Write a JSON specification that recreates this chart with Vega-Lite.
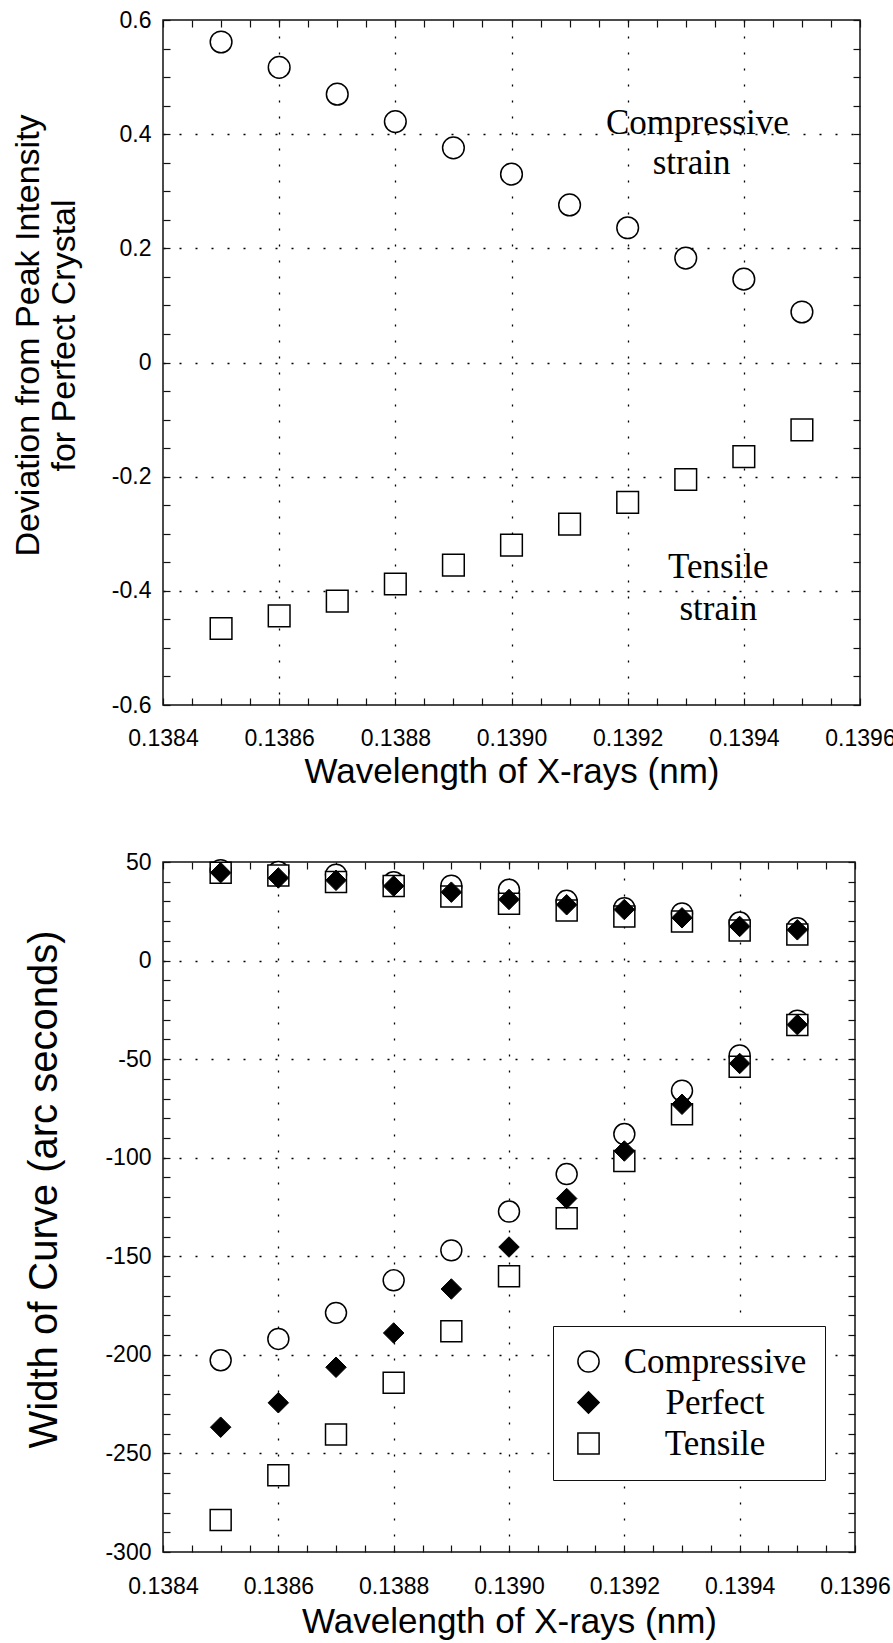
{
  "$schema": "https://vega.github.io/schema/vega-lite/v6.json",
  "background": "white",
  "padding": {"left": 10, "top": 8, "right": 5, "bottom": 0},
  "spacing": 157,
  "bounds": "flush",
  "resolve": {
    "scale": {"shape": "independent", "fill": "independent", "stroke": "independent"},
    "legend": {"shape": "independent", "fill": "independent", "stroke": "independent"}
  },
  "config": {
    "view": {"stroke": "#111", "strokeWidth": 1.5},
    "font": "Liberation Sans",
    "axis": {
      "labelFont": "Liberation Sans", "titleFont": "Liberation Sans",
      "labelColor": "#000", "titleColor": "#000", "titleFontWeight": "normal",
      "domain": false, "tickColor": "#111", "tickWidth": 1.2, "tickSize": -7,
      "labelFontSize": 23, "titleFontSize": 35,
      "labelOverlap": false, "labelFlush": false, "labelBound": false,
      "gridColor": "#000", "gridDash": [2, 14], "gridWidth": 1.3
    }
  },
  "datasets": {
    "top": [
      {"wavelength": 0.1385, "deviation": 0.5615, "strain": "Compressive"},
      {"wavelength": 0.1386, "deviation": 0.517, "strain": "Compressive"},
      {"wavelength": 0.1387, "deviation": 0.470, "strain": "Compressive"},
      {"wavelength": 0.1388, "deviation": 0.422, "strain": "Compressive"},
      {"wavelength": 0.1389, "deviation": 0.376, "strain": "Compressive"},
      {"wavelength": 0.1390, "deviation": 0.330, "strain": "Compressive"},
      {"wavelength": 0.1391, "deviation": 0.276, "strain": "Compressive"},
      {"wavelength": 0.1392, "deviation": 0.236, "strain": "Compressive"},
      {"wavelength": 0.1393, "deviation": 0.183, "strain": "Compressive"},
      {"wavelength": 0.1394, "deviation": 0.146, "strain": "Compressive"},
      {"wavelength": 0.1395, "deviation": 0.0885, "strain": "Compressive"},
      {"wavelength": 0.1385, "deviation": -0.466, "strain": "Tensile"},
      {"wavelength": 0.1386, "deviation": -0.444, "strain": "Tensile"},
      {"wavelength": 0.1387, "deviation": -0.418, "strain": "Tensile"},
      {"wavelength": 0.1388, "deviation": -0.388, "strain": "Tensile"},
      {"wavelength": 0.1389, "deviation": -0.355, "strain": "Tensile"},
      {"wavelength": 0.1390, "deviation": -0.320, "strain": "Tensile"},
      {"wavelength": 0.1391, "deviation": -0.283, "strain": "Tensile"},
      {"wavelength": 0.1392, "deviation": -0.245, "strain": "Tensile"},
      {"wavelength": 0.1393, "deviation": -0.205, "strain": "Tensile"},
      {"wavelength": 0.1394, "deviation": -0.165, "strain": "Tensile"},
      {"wavelength": 0.1395, "deviation": -0.118, "strain": "Tensile"}
    ],
    "notes": [
      {"wavelength": 0.13932, "deviation": 0.400, "label": "Compressive"},
      {"wavelength": 0.13931, "deviation": 0.330, "label": "strain"},
      {"wavelength": 0.139356, "deviation": -0.377, "label": "Tensile"},
      {"wavelength": 0.139356, "deviation": -0.451, "label": "strain"}
    ],
    "bottom": [
      {"wavelength": 0.1385, "width": 45.8, "strain": "Compressive"},
      {"wavelength": 0.1386, "width": 44.9, "strain": "Compressive"},
      {"wavelength": 0.1387, "width": 43.6, "strain": "Compressive"},
      {"wavelength": 0.1388, "width": 39.7, "strain": "Compressive"},
      {"wavelength": 0.1389, "width": 38.0, "strain": "Compressive"},
      {"wavelength": 0.1390, "width": 35.9, "strain": "Compressive"},
      {"wavelength": 0.1391, "width": 30.3, "strain": "Compressive"},
      {"wavelength": 0.1392, "width": 26.6, "strain": "Compressive"},
      {"wavelength": 0.1393, "width": 23.9, "strain": "Compressive"},
      {"wavelength": 0.1394, "width": 19.3, "strain": "Compressive"},
      {"wavelength": 0.1395, "width": 16.4, "strain": "Compressive"},
      {"wavelength": 0.1385, "width": -202.7, "strain": "Compressive"},
      {"wavelength": 0.1386, "width": -191.9, "strain": "Compressive"},
      {"wavelength": 0.1387, "width": -178.7, "strain": "Compressive"},
      {"wavelength": 0.1388, "width": -162.2, "strain": "Compressive"},
      {"wavelength": 0.1389, "width": -147.0, "strain": "Compressive"},
      {"wavelength": 0.1390, "width": -127.3, "strain": "Compressive"},
      {"wavelength": 0.1391, "width": -108.3, "strain": "Compressive"},
      {"wavelength": 0.1392, "width": -88.0, "strain": "Compressive"},
      {"wavelength": 0.1393, "width": -66.0, "strain": "Compressive"},
      {"wavelength": 0.1394, "width": -48.1, "strain": "Compressive"},
      {"wavelength": 0.1395, "width": -30.5, "strain": "Compressive"},
      {"wavelength": 0.1385, "width": 44.6, "strain": "Tensile"},
      {"wavelength": 0.1386, "width": 43.2, "strain": "Tensile"},
      {"wavelength": 0.1387, "width": 39.8, "strain": "Tensile"},
      {"wavelength": 0.1388, "width": 37.8, "strain": "Tensile"},
      {"wavelength": 0.1389, "width": 32.5, "strain": "Tensile"},
      {"wavelength": 0.1390, "width": 28.8, "strain": "Tensile"},
      {"wavelength": 0.1391, "width": 25.4, "strain": "Tensile"},
      {"wavelength": 0.1392, "width": 22.4, "strain": "Tensile"},
      {"wavelength": 0.1393, "width": 19.8, "strain": "Tensile"},
      {"wavelength": 0.1394, "width": 15.3, "strain": "Tensile"},
      {"wavelength": 0.1395, "width": 13.2, "strain": "Tensile"},
      {"wavelength": 0.1385, "width": -283.8, "strain": "Tensile"},
      {"wavelength": 0.1386, "width": -261.1, "strain": "Tensile"},
      {"wavelength": 0.1387, "width": -240.4, "strain": "Tensile"},
      {"wavelength": 0.1388, "width": -214.2, "strain": "Tensile"},
      {"wavelength": 0.1389, "width": -188.0, "strain": "Tensile"},
      {"wavelength": 0.1390, "width": -160.1, "strain": "Tensile"},
      {"wavelength": 0.1391, "width": -130.7, "strain": "Tensile"},
      {"wavelength": 0.1392, "width": -101.7, "strain": "Tensile"},
      {"wavelength": 0.1393, "width": -78.0, "strain": "Tensile"},
      {"wavelength": 0.1394, "width": -53.9, "strain": "Tensile"},
      {"wavelength": 0.1395, "width": -32.7, "strain": "Tensile"},
      {"wavelength": 0.1385, "width": 44.6, "strain": "Perfect"},
      {"wavelength": 0.1386, "width": 41.9, "strain": "Perfect"},
      {"wavelength": 0.1387, "width": 40.7, "strain": "Perfect"},
      {"wavelength": 0.1388, "width": 37.8, "strain": "Perfect"},
      {"wavelength": 0.1389, "width": 34.7, "strain": "Perfect"},
      {"wavelength": 0.1390, "width": 31.0, "strain": "Perfect"},
      {"wavelength": 0.1391, "width": 28.3, "strain": "Perfect"},
      {"wavelength": 0.1392, "width": 25.9, "strain": "Perfect"},
      {"wavelength": 0.1393, "width": 21.7, "strain": "Perfect"},
      {"wavelength": 0.1394, "width": 17.3, "strain": "Perfect"},
      {"wavelength": 0.1395, "width": 15.6, "strain": "Perfect"},
      {"wavelength": 0.1385, "width": -236.7, "strain": "Perfect"},
      {"wavelength": 0.1386, "width": -224.3, "strain": "Perfect"},
      {"wavelength": 0.1387, "width": -206.3, "strain": "Perfect"},
      {"wavelength": 0.1388, "width": -188.9, "strain": "Perfect"},
      {"wavelength": 0.1389, "width": -166.6, "strain": "Perfect"},
      {"wavelength": 0.1390, "width": -145.3, "strain": "Perfect"},
      {"wavelength": 0.1391, "width": -120.7, "strain": "Perfect"},
      {"wavelength": 0.1392, "width": -96.6, "strain": "Perfect"},
      {"wavelength": 0.1393, "width": -72.9, "strain": "Perfect"},
      {"wavelength": 0.1394, "width": -52.2, "strain": "Perfect"},
      {"wavelength": 0.1395, "width": -32.5, "strain": "Perfect"}
    ]
  },
  "vconcat": [
    {
      "width": 697,
      "height": 685,
      "layer": [
        {
          "data": {"name": "top"},
          "mark": {"type": "point", "filled": true, "fill": "white", "fillOpacity": 1, "stroke": "#000", "strokeWidth": 1.5, "size": 470},
          "encoding": {
            "x": {
              "field": "wavelength", "type": "quantitative",
              "scale": {"domain": [0.1384, 0.1396], "nice": false, "zero": false},
              "axis": {
                "orient": "bottom",
                "title": "Wavelength of X-rays (nm)",
                "titleBaseline": "alphabetic", "titleY": 77,
                "labelPadding": 29, "labelDx": -7,
                "values": [0.1384, 0.13845, 0.1385, 0.13855, 0.1386, 0.13865, 0.1387, 0.13875, 0.1388, 0.13885, 0.1389, 0.13895, 0.139, 0.13905, 0.1391, 0.13915, 0.1392, 0.13925, 0.1393, 0.13935, 0.1394, 0.13945, 0.1395, 0.13955, 0.1396],
                "labelExpr": "abs(datum.value*5000-round(datum.value*5000))<0.01 ? format(datum.value,'.4f') : ''",
                "grid": true,
                "gridOpacity": {"condition": {"test": "abs(datum.value*5000-round(datum.value*5000))<0.01 && datum.value>0.13841 && datum.value<0.13959", "value": 1}, "value": 0}
              }
            },
            "y": {
              "field": "deviation", "type": "quantitative",
              "scale": {"domain": [-0.6, 0.6], "nice": false, "zero": false},
              "axis": {
                "orient": "left",
                "title": ["Deviation from Peak Intensity", "for Perfect Crystal"],
                "titleFontSize": 34, "titleLineHeight": 36,
                "titleX": -118, "titleY": 315, "titleBaseline": "bottom", "titleAlign": "center", "titleAngle": 270,
                "labelPadding": 19,
                "values": [-0.6, -0.55, -0.5, -0.45, -0.4, -0.35, -0.3, -0.25, -0.2, -0.15, -0.1, -0.05, 0, 0.05, 0.1, 0.15, 0.2, 0.25, 0.3, 0.35, 0.4, 0.45, 0.5, 0.55, 0.6],
                "labelExpr": "abs(datum.value*5-round(datum.value*5))<0.01 ? (abs(datum.value)<0.001 ? '0' : ''+datum.value) : ''",
                "grid": true,
                "gridOpacity": {"condition": {"test": "abs(datum.value*5-round(datum.value*5))<0.01 && datum.value>-0.59 && datum.value<0.59", "value": 1}, "value": 0}
              }
            },
            "shape": {"field": "strain", "type": "nominal", "scale": {"domain": ["Compressive", "Tensile"], "range": ["circle", "square"]}, "legend": null}
          }
        },
        {
          "data": {"name": "notes"},
          "mark": {"type": "text", "font": "Liberation Serif", "fontSize": 35, "align": "center", "baseline": "alphabetic", "color": "#000"},
          "encoding": {
            "x": {
              "field": "wavelength", "type": "quantitative",
              "axis": {"orient": "top", "title": null, "labels": false, "grid": false,
                "values": [0.1384, 0.13845, 0.1385, 0.13855, 0.1386, 0.13865, 0.1387, 0.13875, 0.1388, 0.13885, 0.1389, 0.13895, 0.139, 0.13905, 0.1391, 0.13915, 0.1392, 0.13925, 0.1393, 0.13935, 0.1394, 0.13945, 0.1395, 0.13955, 0.1396]}
            },
            "y": {
              "field": "deviation", "type": "quantitative",
              "axis": {"orient": "right", "title": null, "labels": false, "grid": false,
                "values": [-0.6, -0.55, -0.5, -0.45, -0.4, -0.35, -0.3, -0.25, -0.2, -0.15, -0.1, -0.05, 0, 0.05, 0.1, 0.15, 0.2, 0.25, 0.3, 0.35, 0.4, 0.45, 0.5, 0.55, 0.6]}
            },
            "text": {"field": "label", "type": "nominal"}
          }
        }
      ],
      "resolve": {"axis": {"x": "independent", "y": "independent"}}
    },
    {
      "width": 692,
      "height": 690,
      "layer": [
        {
          "data": {"name": "bottom"},
          "transform": [{"filter": "datum.strain != 'Perfect'"}],
          "mark": {"type": "point", "filled": true, "fillOpacity": 1, "opacity": 1, "strokeWidth": 1.5, "size": 440},
          "encoding": {
            "x": {
              "field": "wavelength", "type": "quantitative",
              "scale": {"domain": [0.1384, 0.1396], "nice": false, "zero": false},
              "axis": {
                "orient": "bottom",
                "title": "Wavelength of X-rays (nm)",
                "titleBaseline": "alphabetic", "titleY": 80,
                "labelPadding": 30, "labelDx": -7,
                "values": [0.1384, 0.13845, 0.1385, 0.13855, 0.1386, 0.13865, 0.1387, 0.13875, 0.1388, 0.13885, 0.1389, 0.13895, 0.139, 0.13905, 0.1391, 0.13915, 0.1392, 0.13925, 0.1393, 0.13935, 0.1394, 0.13945, 0.1395, 0.13955, 0.1396],
                "labelExpr": "abs(datum.value*5000-round(datum.value*5000))<0.01 ? format(datum.value,'.4f') : ''",
                "grid": true,
                "gridOpacity": {"condition": {"test": "abs(datum.value*5000-round(datum.value*5000))<0.01 && datum.value>0.13841 && datum.value<0.13959", "value": 1}, "value": 0}
              }
            },
            "y": {
              "field": "width", "type": "quantitative",
              "scale": {"domain": [-300, 50], "nice": false, "zero": false},
              "axis": {
                "orient": "left",
                "title": "Width of Curve (arc seconds)",
                "titleFontSize": 40,
                "titleX": -99, "titleY": 327, "titleBaseline": "bottom", "titleAlign": "center", "titleAngle": 270,
                "labelPadding": 19,
                "values": [-300, -290, -280, -270, -260, -250, -240, -230, -220, -210, -200, -190, -180, -170, -160, -150, -140, -130, -120, -110, -100, -90, -80, -70, -60, -50, -40, -30, -20, -10, 0, 10, 20, 30, 40, 50],
                "labelExpr": "datum.value % 50 == 0 ? ''+datum.value : ''",
                "grid": true,
                "gridOpacity": {"condition": {"test": "datum.value % 50 == 0 && datum.value > -299 && datum.value < 49", "value": 1}, "value": 0}
              }
            },
            "shape": {
              "field": "strain", "type": "nominal",
              "scale": {"domain": ["Compressive", "Perfect", "Tensile"], "range": ["circle", "diamond", "square"]},
              "legend": {
                "orient": "none", "legendX": 390, "legendY": 464, "title": null,
                "labelFont": "Liberation Serif", "labelFontSize": 35, "labelColor": "#000",
                "labelAlign": "center", "labelOffset": 109, "labelLimit": 400,
                "symbolSize": 450, "symbolStrokeColor": "#000", "symbolStrokeWidth": 1.5,
                "strokeColor": "#111", "fillColor": "white", "padding": 18, "rowPadding": 5
              }
            },
            "fill": {
              "field": "strain", "type": "nominal",
              "scale": {"domain": ["Compressive", "Perfect", "Tensile"], "range": ["white", "black", "white"]},
              "legend": {
                "orient": "none", "legendX": 390, "legendY": 464, "title": null,
                "labelFont": "Liberation Serif", "labelFontSize": 35, "labelColor": "#000",
                "labelAlign": "center", "labelOffset": 109, "labelLimit": 400,
                "symbolSize": 450, "symbolStrokeColor": "#000", "symbolStrokeWidth": 1.5,
                "strokeColor": "#111", "fillColor": "white", "padding": 18, "rowPadding": 5
              }
            },
            "stroke": {
              "field": "strain", "type": "nominal",
              "scale": {"domain": ["Compressive", "Perfect", "Tensile"], "range": ["black", "black", "black"]},
              "legend": {
                "orient": "none", "legendX": 390, "legendY": 464, "title": null,
                "labelFont": "Liberation Serif", "labelFontSize": 35, "labelColor": "#000",
                "labelAlign": "center", "labelOffset": 109, "labelLimit": 400,
                "symbolSize": 450, "symbolStrokeColor": "#000", "symbolStrokeWidth": 1.5,
                "strokeColor": "#111", "fillColor": "white", "padding": 18, "rowPadding": 5
              }
            }
          }
        },
        {
          "data": {"name": "bottom"},
          "transform": [{"filter": "datum.strain == 'Perfect'"}],
          "mark": {"type": "point", "filled": true, "fillOpacity": 1, "opacity": 1, "strokeWidth": 1, "size": 420},
          "encoding": {
            "x": {
              "field": "wavelength", "type": "quantitative",
              "axis": {"orient": "top", "title": null, "labels": false, "grid": false,
                "values": [0.1384, 0.13845, 0.1385, 0.13855, 0.1386, 0.13865, 0.1387, 0.13875, 0.1388, 0.13885, 0.1389, 0.13895, 0.139, 0.13905, 0.1391, 0.13915, 0.1392, 0.13925, 0.1393, 0.13935, 0.1394, 0.13945, 0.1395, 0.13955, 0.1396]}
            },
            "y": {
              "field": "width", "type": "quantitative",
              "axis": {"orient": "right", "title": null, "labels": false, "grid": false,
                "values": [-300, -290, -280, -270, -260, -250, -240, -230, -220, -210, -200, -190, -180, -170, -160, -150, -140, -130, -120, -110, -100, -90, -80, -70, -60, -50, -40, -30, -20, -10, 0, 10, 20, 30, 40, 50]}
            },
            "shape": {"field": "strain", "type": "nominal"},
            "fill": {"field": "strain", "type": "nominal"},
            "stroke": {"field": "strain", "type": "nominal"}
          }
        }
      ],
      "resolve": {"axis": {"x": "independent", "y": "independent"}}
    }
  ]
}
